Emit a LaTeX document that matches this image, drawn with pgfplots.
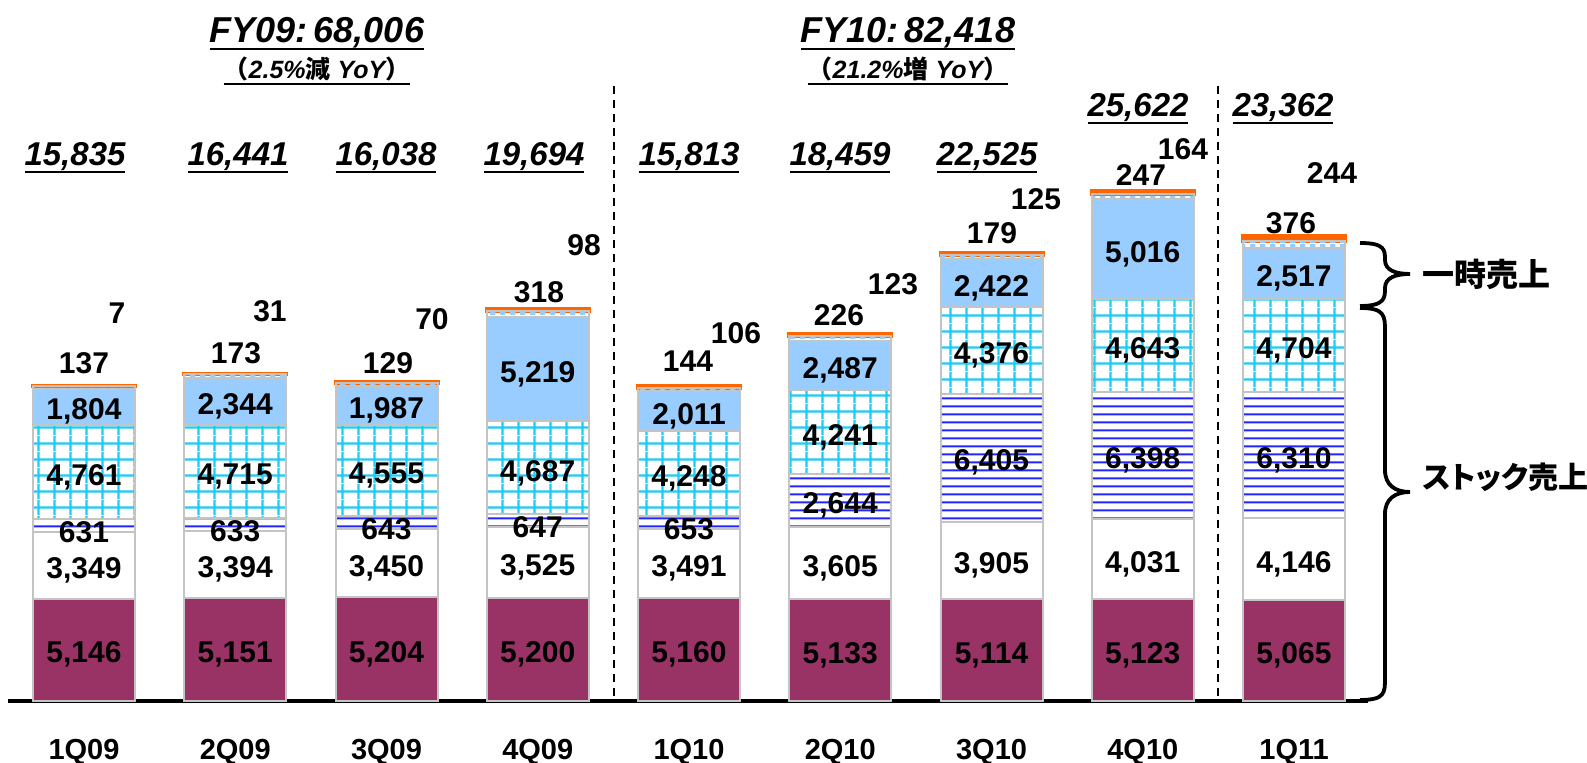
\documentclass[border=0pt]{standalone}
\usepackage{pgfplots}
\pgfplotsset{compat=1.18}
\usepackage{fontspec}
\setmainfont{Liberation Sans}
\newfontfamily\jp{Noto Sans CJK JP}
\newfontfamily\jpp{Noto Sans CJK JP}[RawFeature=+palt]
\usetikzlibrary{patterns}

\definecolor{maroon}{HTML}{993366}
\definecolor{lblue}{HTML}{99CCFF}
\definecolor{gcyan}{HTML}{1CCBF6}
\definecolor{lineblue}{HTML}{2424FF}
\definecolor{orng}{HTML}{FF6600}
\definecolor{bord}{HTML}{C4C4C4}

\pgfdeclarepatterninherentlycolored{cyangrid}{\pgfpointorigin}{\pgfpoint{7.75pt}{7.75pt}}{\pgfpoint{7.75pt}{7.75pt}}{%
  \pgfsetstrokecolor{gcyan}\pgfsetlinewidth{1.1pt}%
  \pgfpathmoveto{\pgfpoint{0pt}{3.875pt}}\pgfpathlineto{\pgfpoint{7.75pt}{3.875pt}}%
  \pgfpathmoveto{\pgfpoint{3.875pt}{0pt}}\pgfpathlineto{\pgfpoint{3.875pt}{7.75pt}}%
  \pgfusepath{stroke}}
\pgfdeclarepatterninherentlycolored{bluelines}{\pgfpointorigin}{\pgfpoint{4pt}{3.75pt}}{\pgfpoint{4pt}{3.75pt}}{%
  \pgfsetstrokecolor{lineblue}\pgfsetlinewidth{1.1pt}%
  \pgfpathmoveto{\pgfpoint{0pt}{1.875pt}}\pgfpathlineto{\pgfpoint{4pt}{1.875pt}}%
  \pgfusepath{stroke}}
\pgfdeclarepatterninherentlycolored{checker}{\pgfpointorigin}{\pgfpoint{5pt}{4pt}}{\pgfpoint{5pt}{4pt}}{%
  \pgfsetfillcolor{lblue}%
  \pgfpathrectangle{\pgfpointorigin}{\pgfpoint{3pt}{4pt}}%
  \pgfusepath{fill}}

\newsavebox\ulb
\newcommand\ul[3]{\sbox\ulb{#3}\rlap{\usebox\ulb}\raisebox{-#1}[0pt][0pt]{\rule{\wd\ulb}{#2}}}

\tikzset{lab/.style={font=\fontsize{15}{17}\selectfont\bfseries, inner sep=0pt, anchor=center},
         tot/.style={font=\fontsize{16.5}{18}\selectfont\bfseries\itshape, inner sep=0pt, anchor=base}}
% segment label: bar index, segment centre in hundreds of data units, text (pixel frame of the axis)
\newcommand\seg[3]{\node[lab] at ({84+151.25*#1},{706-1.99*#2}) {#3};}

\begin{document}
\begin{tikzpicture}
\useasboundingbox (0,0) rectangle (793.5pt,381.5pt);
\begin{axis}[
  at={(4pt,31pt)}, anchor=south west,
  scale only axis, width=680pt, height=318.4pt,
  xmin=-0.5025, xmax=8.489, ymin=0, ymax=32000,
  ybar stacked, bar width=51pt,
  axis x line=bottom, axis y line=none,
  axis line style={line width=1.6pt, black, -},
  xtick={0,...,8},
  xticklabels={1Q09,2Q09,3Q09,4Q09,1Q10,2Q10,3Q10,4Q10,1Q11},
  major tick length=0pt,
  xticklabel style={font=\fontsize{14.5}{16}\selectfont\bfseries, anchor=center, yshift=-25.5pt},
  ytick=\empty,
  clip=false,
]
\addplot[fill=maroon, draw=bord, line width=1pt] coordinates {(0,5146) (1,5151) (2,5204) (3,5200) (4,5160) (5,5133) (6,5114) (7,5123) (8,5065)};
\addplot[fill=white, draw=bord, line width=1pt] coordinates {(0,3349) (1,3394) (2,3450) (3,3525) (4,3491) (5,3605) (6,3905) (7,4031) (8,4146)};
\addplot[pattern=bluelines, draw=bord, line width=1pt] coordinates {(0,631) (1,633) (2,643) (3,647) (4,653) (5,2644) (6,6405) (7,6398) (8,6310)};
\addplot[pattern=cyangrid, draw=bord, line width=1pt] coordinates {(0,4761) (1,4715) (2,4555) (3,4687) (4,4248) (5,4241) (6,4376) (7,4643) (8,4704)};
\addplot[fill=lblue, draw=bord, line width=1pt] coordinates {(0,1804) (1,2344) (2,1987) (3,5219) (4,2011) (5,2487) (6,2422) (7,5016) (8,2517)};
\addplot[pattern=checker, draw=bord, line width=1pt] coordinates {(0,137) (1,173) (2,129) (3,318) (4,144) (5,226) (6,179) (7,247) (8,376)};
\addplot[fill=orng, draw=orng, line width=2pt] coordinates {(0,7) (1,31) (2,70) (3,98) (4,106) (5,123) (6,125) (7,164) (8,244)};
\end{axis}

\begin{scope}[x=0.5pt, y=-0.5pt, shift={(0pt,381.5pt)}]
  % segment labels (centred in their segments)
  \seg{0}{25.73}{5,146}  \seg{0}{68.20}{3,349}  \seg{0}{87.40}{631}   \seg{0}{115.06}{4,761} \seg{0}{147.89}{1,804}
  \seg{1}{25.75}{5,151}  \seg{1}{68.48}{3,394}  \seg{1}{87.90}{633}   \seg{1}{115.35}{4,715} \seg{1}{150.65}{2,344}
  \seg{2}{26.02}{5,204}  \seg{2}{69.29}{3,450}  \seg{2}{89.05}{643}   \seg{2}{115.74}{4,555} \seg{2}{148.45}{1,987}
  \seg{3}{26.00}{5,200}  \seg{3}{69.62}{3,525}  \seg{3}{89.80}{647}   \seg{3}{117.15}{4,687} \seg{3}{166.68}{5,219}
  \seg{4}{25.80}{5,160}  \seg{4}{69.05}{3,491}  \seg{4}{89.05}{653}   \seg{4}{114.28}{4,248} \seg{4}{145.57}{2,011}
  \seg{5}{25.66}{5,133}  \seg{5}{69.35}{3,605}  \seg{5}{100.60}{2,644} \seg{5}{135.02}{4,241} \seg{5}{168.66}{2,487}
  \seg{6}{25.57}{5,114}  \seg{6}{70.66}{3,905}  \seg{6}{122.21}{6,405} \seg{6}{176.12}{4,376} \seg{6}{210.11}{2,422}
  \seg{7}{25.61}{5,123}  \seg{7}{71.38}{4,031}  \seg{7}{123.53}{6,398} \seg{7}{178.73}{4,643} \seg{7}{227.03}{5,016}
  \seg{8}{25.32}{5,065}  \seg{8}{71.38}{4,146}  \seg{8}{123.66}{6,310} \seg{8}{178.73}{4,704} \seg{8}{214.83}{2,517}
  % dashed separators
  \draw[line width=1pt, dash pattern=on 4pt off 3pt] (614,86) -- (614,701);
  \draw[line width=1pt, dash pattern=on 4pt off 3pt] (1218,86) -- (1218,701);
  % small labels
  \node[lab] at (84,363) {137};  \node[lab] at (117,313) {7};
  \node[lab] at (236,353) {173}; \node[lab] at (270,311) {31};
  \node[lab] at (388,363) {129}; \node[lab] at (432,319) {70};
  \node[lab] at (539,292) {318}; \node[lab] at (584,245) {98};
  \node[lab] at (688,361) {144}; \node[lab] at (736,333) {106};
  \node[lab] at (839,315) {226}; \node[lab] at (893,284) {123};
  \node[lab] at (992,233) {179}; \node[lab] at (1036,199) {125};
  \node[lab] at (1141,175) {247}; \node[lab] at (1183,149) {164};
  \node[lab] at (1291,223) {376}; \node[lab] at (1332,173) {244};
  % totals
  \node[tot] at (75,166) {\ul{3.5pt}{1pt}{15,835}};
  \node[tot] at (238,166) {\ul{3.5pt}{1pt}{16,441}};
  \node[tot] at (386,166) {\ul{3.5pt}{1pt}{16,038}};
  \node[tot] at (534,166) {\ul{3.5pt}{1pt}{19,694}};
  \node[tot] at (689,166) {\ul{3.5pt}{1pt}{15,813}};
  \node[tot] at (840,166) {\ul{3.5pt}{1pt}{18,459}};
  \node[tot] at (987,166) {\ul{3.5pt}{1pt}{22,525}};
  \node[tot] at (1138,117) {\ul{3.5pt}{1pt}{25,622}};
  \node[tot] at (1283,117) {\ul{3.5pt}{1pt}{23,362}};
  % titles
  \node[inner sep=0pt, anchor=base, font=\fontsize{18}{20}\selectfont\bfseries\itshape] at (317,43) {\ul{3.5pt}{1.1pt}{FY09:\,68,006}};
  \node[inner sep=0pt, anchor=base, font=\fontsize{12.5}{14}\selectfont\bfseries\itshape] at (317,79) {\ul{3pt}{0.9pt}{{\jp\bfseries （}2.5\%{\jp\bfseries 減} YoY{\jp\bfseries ）}}};
  \node[inner sep=0pt, anchor=base, font=\fontsize{18}{20}\selectfont\bfseries\itshape] at (908,43) {\ul{3.5pt}{1.1pt}{FY10:\,82,418}};
  \node[inner sep=0pt, anchor=base, font=\fontsize{12.5}{14}\selectfont\bfseries\itshape] at (908,79) {\ul{3pt}{0.9pt}{{\jp\bfseries （}21.2\%{\jp\bfseries 増} YoY{\jp\bfseries ）}}};
  % braces
  \draw[line width=1.9pt] (1360,243) .. controls (1385,243) and (1385,250) .. (1385,260)
     .. controls (1385,270) and (1395,274) .. (1410,274)
     .. controls (1395,274) and (1385,278) .. (1385,288)
     .. controls (1385,298) and (1385,306) .. (1360,306);
  \draw[line width=1.9pt] (1360,308) .. controls (1385,308) and (1385,316) .. (1385,331) -- (1385,470)
     .. controls (1385,485) and (1395,492) .. (1410,492)
     .. controls (1395,492) and (1385,499) .. (1385,514) -- (1385,678)
     .. controls (1385,693) and (1385,700) .. (1360,700);
  \node[anchor=west, inner sep=0pt, font=\fontsize{16}{18}\selectfont\jp\bfseries] at (1422,274) {一時売上};
  \node[anchor=west, inner sep=0pt, font=\fontsize{15}{17}\selectfont\jpp\bfseries] at (1422,477) {ストック売上};
\end{scope}
\end{tikzpicture}
\end{document}
